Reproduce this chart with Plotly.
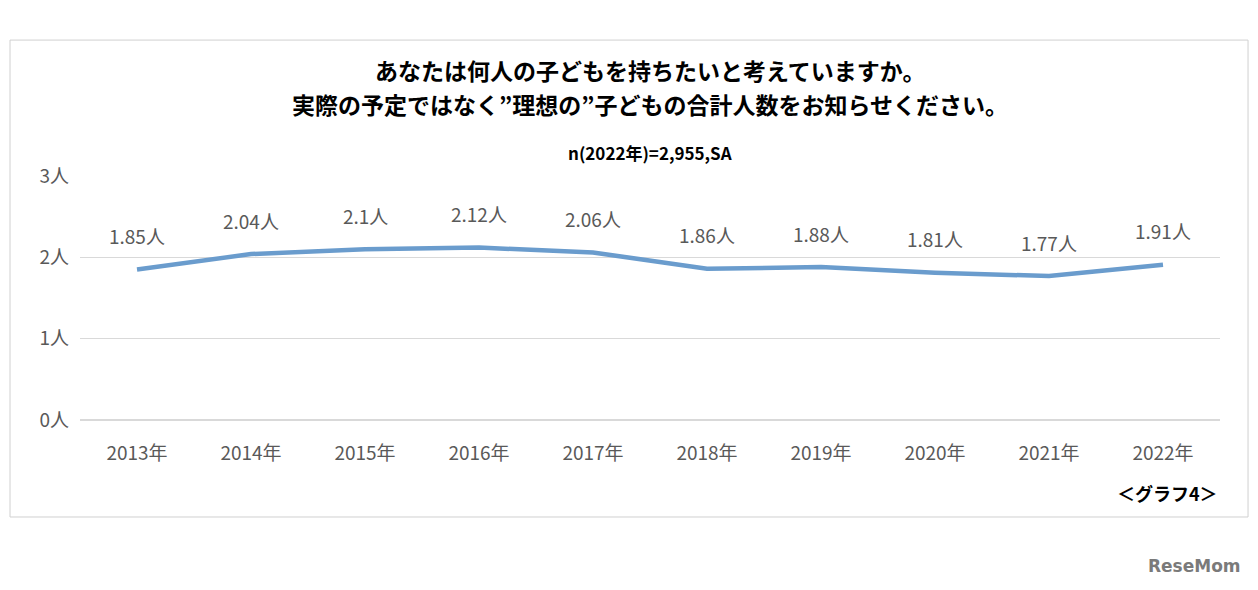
import plotly.graph_objects as go

years = ["2013年", "2014年", "2015年", "2016年", "2017年", "2018年", "2019年", "2020年", "2021年", "2022年"]
values = [1.85, 2.04, 2.1, 2.12, 2.06, 1.86, 1.88, 1.81, 1.77, 1.91]
value_labels = ["1.85人", "2.04人", "2.1人", "2.12人", "2.06人", "1.86人", "1.88人", "1.81人", "1.77人", "1.91人"]
y_ticks = [0, 1, 2, 3]
y_tick_labels = ["0人", "1人", "2人", "3人"]

font = "Noto Sans CJK JP"
grey = "#595959"

fig = go.Figure(go.Scatter(
    x=years, y=values, mode="lines",
    line=dict(color="#6A9CCD", width=4.5),
    hoverinfo="skip",
))

for x, y, t in zip(years, values, value_labels):
    fig.add_annotation(x=x, y=y, text=t, showarrow=False, yshift=34,
                       font=dict(size=19, color=grey, family=font))

fig.add_annotation(xref="paper", yref="paper", x=0.5, y=1.434, yanchor="middle",
                   text="<b>あなたは何人の子どもを持ちたいと考えていますか。</b>",
                   showarrow=False, font=dict(size=23, color="#000", family=font))
fig.add_annotation(xref="paper", yref="paper", x=0.5, y=1.295, yanchor="middle",
                   text="<b>実際の予定ではなく”理想の”子どもの合計人数をお知らせください。</b>",
                   showarrow=False, font=dict(size=23, color="#000", family=font))
fig.add_annotation(xref="paper", yref="paper", x=0.5, y=1.098, yanchor="middle",
                   text="<b>n(2022年)=2,955,SA</b>",
                   showarrow=False, font=dict(size=17, color="#000", family=font))
fig.add_annotation(xref="paper", yref="paper", x=1.0, y=-0.3, xanchor="right", yanchor="middle",
                   text="<b>＜グラフ4＞</b>",
                   showarrow=False, font=dict(size=18, color="#000", family=font))
fig.add_annotation(xref="paper", yref="paper", x=1.02, y=-0.6, xanchor="right", yanchor="middle",
                   text="<b>ReseMom</b>",
                   showarrow=False, font=dict(size=17, color="#7a7a7a", family="DejaVu Sans"))

fig.add_shape(type="rect", xref="paper", yref="paper",
              x0=-0.0614, x1=1.0246, y0=-0.3975, y1=1.557,
              line=dict(color="#d0d0d0", width=1))

fig.update_layout(
    width=1258, height=590,
    margin=dict(l=72, r=46, t=168, b=178),
    paper_bgcolor="white", plot_bgcolor="white",
    showlegend=False,
    font=dict(family=font, color=grey),
    xaxis=dict(range=[-0.5, 9.5], showgrid=False, showline=False, ticks="",
               ticklabelstandoff=20,
               tickfont=dict(size=19, color=grey)),
    yaxis=dict(range=[0, 3], tickvals=y_ticks, ticktext=y_tick_labels,
               showgrid=True, gridcolor="#d9d9d9", gridwidth=1, zeroline=True,
               zerolinecolor="#d9d9d9", ticks="", ticklabelstandoff=10,
               tickfont=dict(size=19, color=grey)),
)

fig.write_html("out.html")
